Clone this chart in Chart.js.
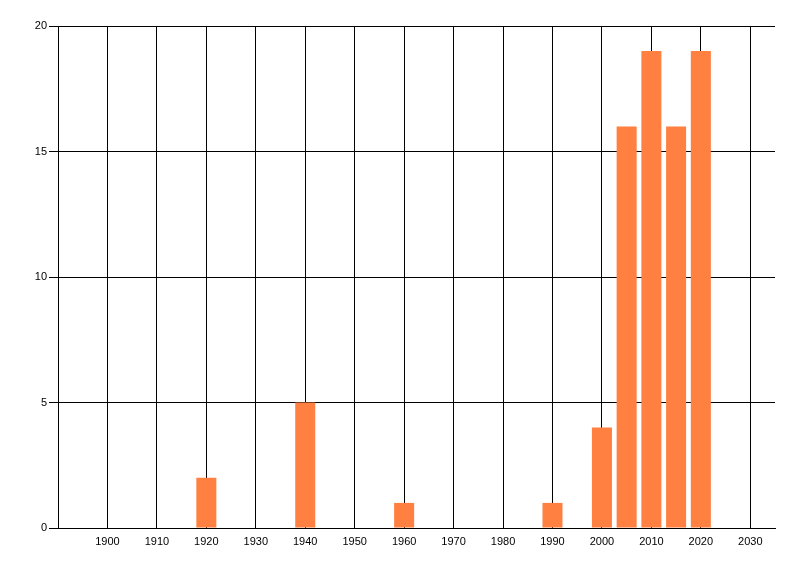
<!DOCTYPE html>
<html>
<head>
<meta charset="utf-8">
<script src="https://cdn.jsdelivr.net/npm/chart.js@4"></script>
<style>
  html, body { margin: 0; padding: 0; background: #fff; }
  #wrap { width: 800px; height: 576px; }
</style>
</head>
<body>
<div id="wrap"><canvas id="chart"></canvas></div>
<script>
// Counts per year
const years = [1920, 1940, 1960, 1990, 2000, 2005, 2010, 2015, 2020];
const counts = [2, 5, 1, 1, 4, 16, 19, 16, 19];
const xTicks = [1900, 1910, 1920, 1930, 1940, 1950, 1960, 1970, 1980, 1990, 2000, 2010, 2020, 2030];
const yTicks = [0, 5, 10, 15, 20];

const tickFont = { family: 'Liberation Sans, Arial, sans-serif', size: 11 };

new Chart(document.getElementById('chart'), {
  type: 'bar',
  data: {
    datasets: [{
      data: years.map((y, i) => ({ x: y, y: counts[i] })),
      backgroundColor: 'rgb(255,128,64)',
      borderWidth: 0,
      categoryPercentage: 1,
      barPercentage: 0.81
    }]
  },
  options: {
    responsive: true,
    maintainAspectRatio: false,
    animation: false,
    layout: { padding: { top: 26, right: 25, left: 0, bottom: 0 } },
    plugins: { legend: { display: false }, tooltip: { enabled: false } },
    scales: {
      x: {
        type: 'linear',
        min: 1890,
        max: 2035,
        offset: false,
        afterBuildTicks: (axis) => { axis.ticks = xTicks.map(v => ({ value: v })); },
        afterFit: (axis) => { axis.height = 48; },
        grid: { color: '#000', lineWidth: 1, drawTicks: false, offset: false },
        border: { color: '#000', width: 1 },
        ticks: { color: '#000', font: tickFont, padding: 7, maxRotation: 0, autoSkip: false,
                 callback: (v) => String(v) }
      },
      y: {
        min: 0,
        max: 20,
        afterBuildTicks: (axis) => { axis.ticks = yTicks.map(v => ({ value: v })); },
        afterFit: (axis) => { axis.width = 58; },
        grid: { color: '#000', lineWidth: 1, tickLength: 9 },
        border: { color: '#000', width: 1 },
        ticks: { color: '#000', font: tickFont, padding: 2 }
      }
    }
  }
});
</script>
</body>
</html>
